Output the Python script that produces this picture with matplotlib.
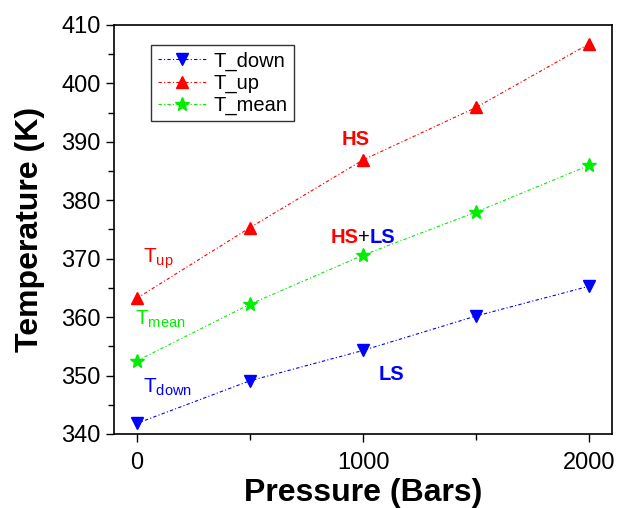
import numpy as np
import matplotlib.pyplot as plt
from matplotlib.ticker import MultipleLocator

plt.rcParams['font.family'] = ['Liberation Sans', 'DejaVu Sans']
plt.rcParams['mathtext.fontset'] = 'custom'
plt.rcParams['mathtext.rm'] = 'Liberation Sans'
plt.rcParams['mathtext.it'] = 'Liberation Sans'

pressure = [0, 500, 1000, 1500, 2000]
t_down = [341.8, 349.1, 354.3, 360.2, 365.3]
t_up = [363.2, 375.3, 386.9, 395.9, 406.8]
t_mean = [352.5, 362.2, 370.6, 378.0, 386.0]

fig = plt.figure(figsize=(6.21, 5.08), dpi=100)
ax = fig.add_axes([0.1836, 0.1457, 0.8019, 0.8051])

ls = (0, (3, 2, 1, 2))
ax.plot(pressure, t_down, color="blue", linestyle=ls, linewidth=0.8,
        marker="v", markersize=8, label="T_down")
ax.plot(pressure, t_up, color="red", linestyle=ls, linewidth=0.8,
        marker="^", markersize=8, label="T_up")
ax.plot(pressure, t_mean, color="#00ee00", linestyle=ls, linewidth=0.8,
        marker="*", markersize=10, label="T_mean")

ax.set_xlim(-100, 2100)
ax.set_ylim(340, 410)
ax.xaxis.set_major_locator(MultipleLocator(1000))
ax.xaxis.set_minor_locator(MultipleLocator(500))
ax.yaxis.set_major_locator(MultipleLocator(10))
ax.yaxis.set_minor_locator(MultipleLocator(5))
ax.tick_params(which="major", direction="out", length=6, width=1, labelsize=17)
ax.tick_params(axis="x", which="major", pad=7)
ax.tick_params(which="minor", direction="out", length=4, width=1)
for s in ax.spines.values():
    s.set_linewidth(1.2)

ax.set_xlabel("Pressure (Bars)", fontsize=23, fontweight="bold", labelpad=3)
ax.set_ylabel("Temperature (K)", fontsize=23, fontweight="bold", labelpad=12)

leg = ax.legend(loc="upper left", bbox_to_anchor=(0.055, 0.975), fontsize=14.5,
                frameon=True, fancybox=False, edgecolor="black",
                handlelength=2.4, handletextpad=0.4, borderpad=0.3,
                labelspacing=0.15)
leg.get_frame().set_linewidth(1.0)

ax.text(27, 369.3, r"T$_{\mathrm{up}}$", color="red", fontsize=15)
ax.text(-6, 358.7, r"T$_{\mathrm{mean}}$", color="#00ee00", fontsize=15)
ax.text(30, 347, r"T$_{\mathrm{down}}$", color="blue", fontsize=15)

ax.text(905, 389.5, "HS", color="red", fontsize=14.5, fontweight="bold")
ax.text(1070, 349.3, "LS", color="blue", fontsize=14.5, fontweight="bold")
t1 = ax.text(855, 372.7, "HS", color="red", fontsize=14.5, fontweight="bold")
t2 = ax.annotate("+", xycoords=t1, xy=(1, 0), va="bottom", color="black",
                 fontsize=14.5)
ax.annotate("LS", xycoords=t2, xy=(1, 0), va="bottom", color="blue",
            fontsize=14.5, fontweight="bold")

fig.savefig("out.png", dpi=100)
